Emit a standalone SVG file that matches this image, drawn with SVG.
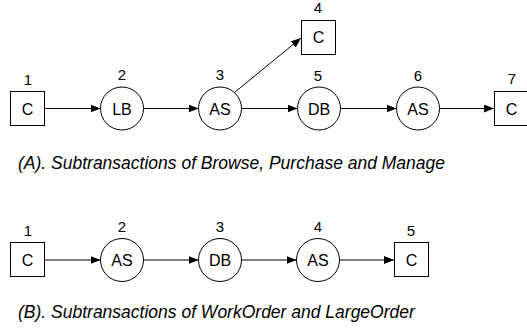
<svg xmlns="http://www.w3.org/2000/svg" width="527" height="331" viewBox="0 0 527 331">
  <style>
    .box { fill: #fff; stroke: #000; stroke-width: 1; }
    .svc { fill: #fff; stroke: #000; stroke-width: 1; }
    .lbl { font-family: "Liberation Sans", Arial, sans-serif; font-size: 16px; text-anchor: middle; fill: #000; }
    .num { font-family: "Liberation Sans", Arial, sans-serif; font-size: 15px; text-anchor: middle; fill: #000; }
    .cap { font-family: "Liberation Sans", Arial, sans-serif; font-size: 17.5px; font-style: italic; fill: #000; }
    .edge { fill: none; stroke: #000; stroke-width: 1; marker-end: url(#arrow); }
  </style>
  <defs>
    <marker id="arrow" viewBox="0 0 10 8" refX="10" refY="4" markerWidth="10" markerHeight="8" markerUnits="userSpaceOnUse" orient="auto">
      <path d="M0,0 L10,4 L0,8 Z" fill="#000"/>
    </marker>
  </defs>
  <rect width="527" height="331" fill="#fff"/>

  <!-- connectors -->
  <g id="connectors">
    <line class="edge" x1="45" y1="108.5" x2="100.5" y2="108.5"/>
    <line class="edge" x1="143.5" y1="108.5" x2="198.5" y2="108.5"/>
    <line class="edge" x1="241.5" y1="108.5" x2="297.5" y2="108.5"/>
    <line class="edge" x1="234.5" y1="92.5" x2="301" y2="38"/>
    <line class="edge" x1="340.5" y1="108.5" x2="396.5" y2="108.5"/>
    <line class="edge" x1="439.5" y1="108.5" x2="494" y2="108.5"/>

    <line class="edge" x1="45" y1="260" x2="100.5" y2="260"/>
    <line class="edge" x1="143.5" y1="260" x2="198.5" y2="260"/>
    <line class="edge" x1="241.5" y1="260" x2="296.5" y2="260"/>
    <line class="edge" x1="339.5" y1="260" x2="394" y2="260"/>
  </g>

  <!-- (A) chain -->
  <g id="a1">
    <rect class="box" x="10.5" y="91.5" width="34" height="34"/>
    <text class="lbl" x="27.5" y="114.5">C</text>
    <text class="num" x="28" y="84.5">1</text>
  </g>
  <g id="a2">
    <circle class="svc" cx="122" cy="108.5" r="21.5"/>
    <text class="lbl" x="122" y="114.5">LB</text>
    <text class="num" x="122" y="79.5">2</text>
  </g>
  <g id="a3">
    <circle class="svc" cx="220" cy="108.5" r="21.5"/>
    <text class="lbl" x="220" y="114.5">AS</text>
    <text class="num" x="220" y="79.5">3</text>
  </g>
  <g id="a4">
    <rect class="box" x="301.5" y="20.5" width="34" height="34"/>
    <text class="lbl" x="318.5" y="43">C</text>
    <text class="num" x="318" y="13">4</text>
  </g>
  <g id="a5">
    <circle class="svc" cx="319" cy="108.5" r="21.5"/>
    <text class="lbl" x="319" y="114.5">DB</text>
    <text class="num" x="318" y="80.5">5</text>
  </g>
  <g id="a6">
    <circle class="svc" cx="418" cy="108.5" r="21.5"/>
    <text class="lbl" x="418" y="114.5">AS</text>
    <text class="num" x="418" y="80.5">6</text>
  </g>
  <g id="a7">
    <rect class="box" x="494.5" y="91.5" width="34" height="34"/>
    <text class="lbl" x="511.5" y="114.5">C</text>
    <text class="num" x="512" y="84">7</text>
  </g>
  <text class="cap" x="18" y="169">(A). Subtransactions of Browse, Purchase and Manage</text>

  <!-- (B) chain -->
  <g id="b1">
    <rect class="box" x="10.5" y="242.5" width="34" height="34"/>
    <text class="lbl" x="27.5" y="265.5">C</text>
    <text class="num" x="28" y="236">1</text>
  </g>
  <g id="b2">
    <circle class="svc" cx="122" cy="260" r="21.5"/>
    <text class="lbl" x="122" y="266">AS</text>
    <text class="num" x="122" y="232">2</text>
  </g>
  <g id="b3">
    <circle class="svc" cx="220" cy="260" r="21.5"/>
    <text class="lbl" x="220" y="266">DB</text>
    <text class="num" x="220" y="232">3</text>
  </g>
  <g id="b4">
    <circle class="svc" cx="318" cy="260" r="21.5"/>
    <text class="lbl" x="318" y="266">AS</text>
    <text class="num" x="318" y="232">4</text>
  </g>
  <g id="b5">
    <rect class="box" x="394.5" y="242.5" width="34" height="34"/>
    <text class="lbl" x="411.5" y="265.5">C</text>
    <text class="num" x="411" y="236">5</text>
  </g>
  <text class="cap" x="18" y="318">(B). Subtransactions of WorkOrder and LargeOrder</text>
</svg>
